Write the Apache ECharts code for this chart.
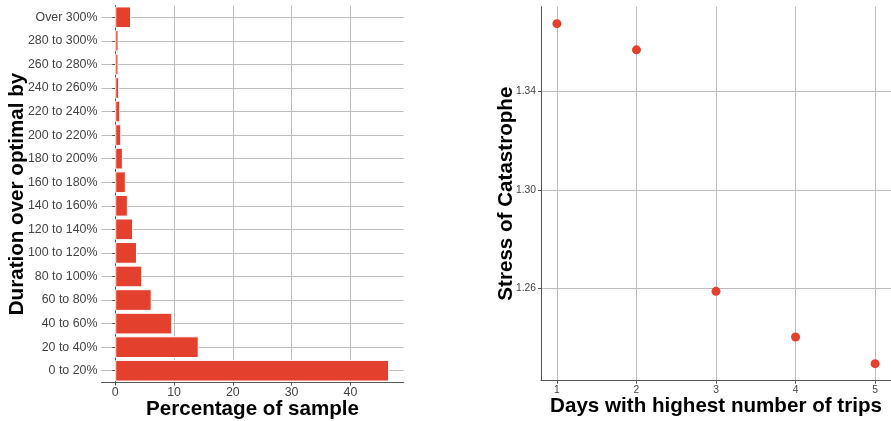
<!DOCTYPE html>
<html>
<head>
<meta charset="utf-8">
<script src="https://cdn.jsdelivr.net/npm/echarts@6/dist/echarts.min.js"></script>
<style>
html,body{margin:0;padding:0;background:#fff;}
#chart{width:891px;height:421px;}
</style>
</head>
<body>
<div id="chart"></div>
<script>
// Left chart data
const durationCategories = ['0 to 20%','20 to 40%','40 to 60%','60 to 80%','80 to 100%','100 to 120%','120 to 140%','140 to 160%','160 to 180%','180 to 200%','200 to 220%','220 to 240%','240 to 260%','260 to 280%','280 to 300%','Over 300%'];
const percentValues = [46.6, 14.2, 9.7, 6.2, 4.6, 3.7, 3.05, 2.15, 1.8, 1.3, 1.02, 0.85, 0.68, 0.55, 0.56, 2.7];
const percentTicks = [0, 10, 20, 30, 40];

// Right chart data
const days = [1, 2, 3, 4, 5];
const stress = [1.3673, 1.3567, 1.2589, 1.2404, 1.2296];
const stressTicks = [1.26, 1.30, 1.34];

const RED = '#e3412d';
const GRID = '#bdbdbd';
const AXIS = '#555555';
const LABEL = '#444444';
const FONT = 'Liberation Sans, Arial, sans-serif';

const chart = echarts.init(document.getElementById('chart'));
chart.setOption({
  animation: false,
  backgroundColor: '#ffffff',
  textStyle: { fontFamily: FONT },
  grid: [
    { left: 101.5, width: 302, top: 5.5, height: 377, outerBoundsMode: 'none', containLabel: false },
    { left: 541, right: 0, top: 6.6, height: 374.1, outerBoundsMode: 'none', containLabel: false }
  ],
  xAxis: [
    {
      gridIndex: 0, type: 'value', min: -2.335, max: 49.035,
      name: 'Percentage of sample', nameLocation: 'middle', nameGap: 16, nameMoveOverlap: false,
      nameTextStyle: { fontSize: 20.6, fontWeight: 'bold', color: '#000', fontFamily: FONT },
      axisLine: { show: true, onZero: false, lineStyle: { color: AXIS, width: 1 } },
      axisTick: { show: true, length: 3, customValues: percentTicks, lineStyle: { color: AXIS } },
      axisLabel: { customValues: percentTicks, fontSize: 12.4, color: LABEL, margin: 4, fontFamily: FONT },
      splitLine: { show: true, lineStyle: { color: GRID, width: 1 } }
    },
    {
      gridIndex: 1, type: 'value', min: 0.8, max: 5.2,
      name: 'Days with highest number of trips', nameLocation: 'middle', nameGap: 15, nameMoveOverlap: false,
      nameTextStyle: { fontSize: 20.6, fontWeight: 'bold', color: '#000', fontFamily: FONT },
      axisLine: { show: true, onZero: false, lineStyle: { color: AXIS, width: 1 } },
      axisTick: { show: true, length: 3, customValues: days, lineStyle: { color: AXIS } },
      axisLabel: { customValues: days, fontSize: 10.3, color: LABEL, margin: 4, fontFamily: FONT },
      splitLine: { show: true, lineStyle: { color: GRID, width: 1 } }
    }
  ],
  yAxis: [
    {
      gridIndex: 0, type: 'category', data: durationCategories,
      name: 'Duration over optimal by', nameLocation: 'middle', nameGap: 74, nameMoveOverlap: false,
      nameTextStyle: { fontSize: 20.6, fontWeight: 'bold', color: '#000', fontFamily: FONT },
      axisLine: { show: true, lineStyle: { color: AXIS, width: 1 } },
      axisTick: { show: true, length: 3, alignWithLabel: true, lineStyle: { color: AXIS } },
      axisLabel: { fontSize: 12.4, color: LABEL, margin: 4, fontFamily: FONT },
      splitLine: { show: true, alignWithLabel: true, lineStyle: { color: GRID, width: 1 } }
    },
    {
      gridIndex: 1, type: 'value', min: 1.2227, max: 1.3742,
      name: 'Stress of Catastrophe', nameLocation: 'middle', nameGap: 24, nameMoveOverlap: false,
      nameTextStyle: { fontSize: 20.6, fontWeight: 'bold', color: '#000', fontFamily: FONT },
      axisLine: { show: true, onZero: false, lineStyle: { color: AXIS, width: 1 } },
      axisTick: { show: true, length: 3, customValues: stressTicks, lineStyle: { color: AXIS } },
      axisLabel: { customValues: stressTicks, fontSize: 10.3, color: LABEL, margin: 5, fontFamily: FONT,
        formatter: v => v.toFixed(2) },
      splitLine: { show: true, lineStyle: { color: GRID, width: 1 } }
    }
  ],
  series: [
    {
      type: 'bar', xAxisIndex: 0, yAxisIndex: 0,
      data: percentValues,
      barCategoryGap: '8%',
      itemStyle: { color: RED, borderColor: '#ffffff', borderWidth: 1 }
    },
    {
      type: 'scatter', xAxisIndex: 1, yAxisIndex: 1,
      data: days.map((d, i) => [d, stress[i]]),
      symbolSize: 9,
      itemStyle: { color: RED, opacity: 1 }
    }
  ]
});
</script>
</body>
</html>
